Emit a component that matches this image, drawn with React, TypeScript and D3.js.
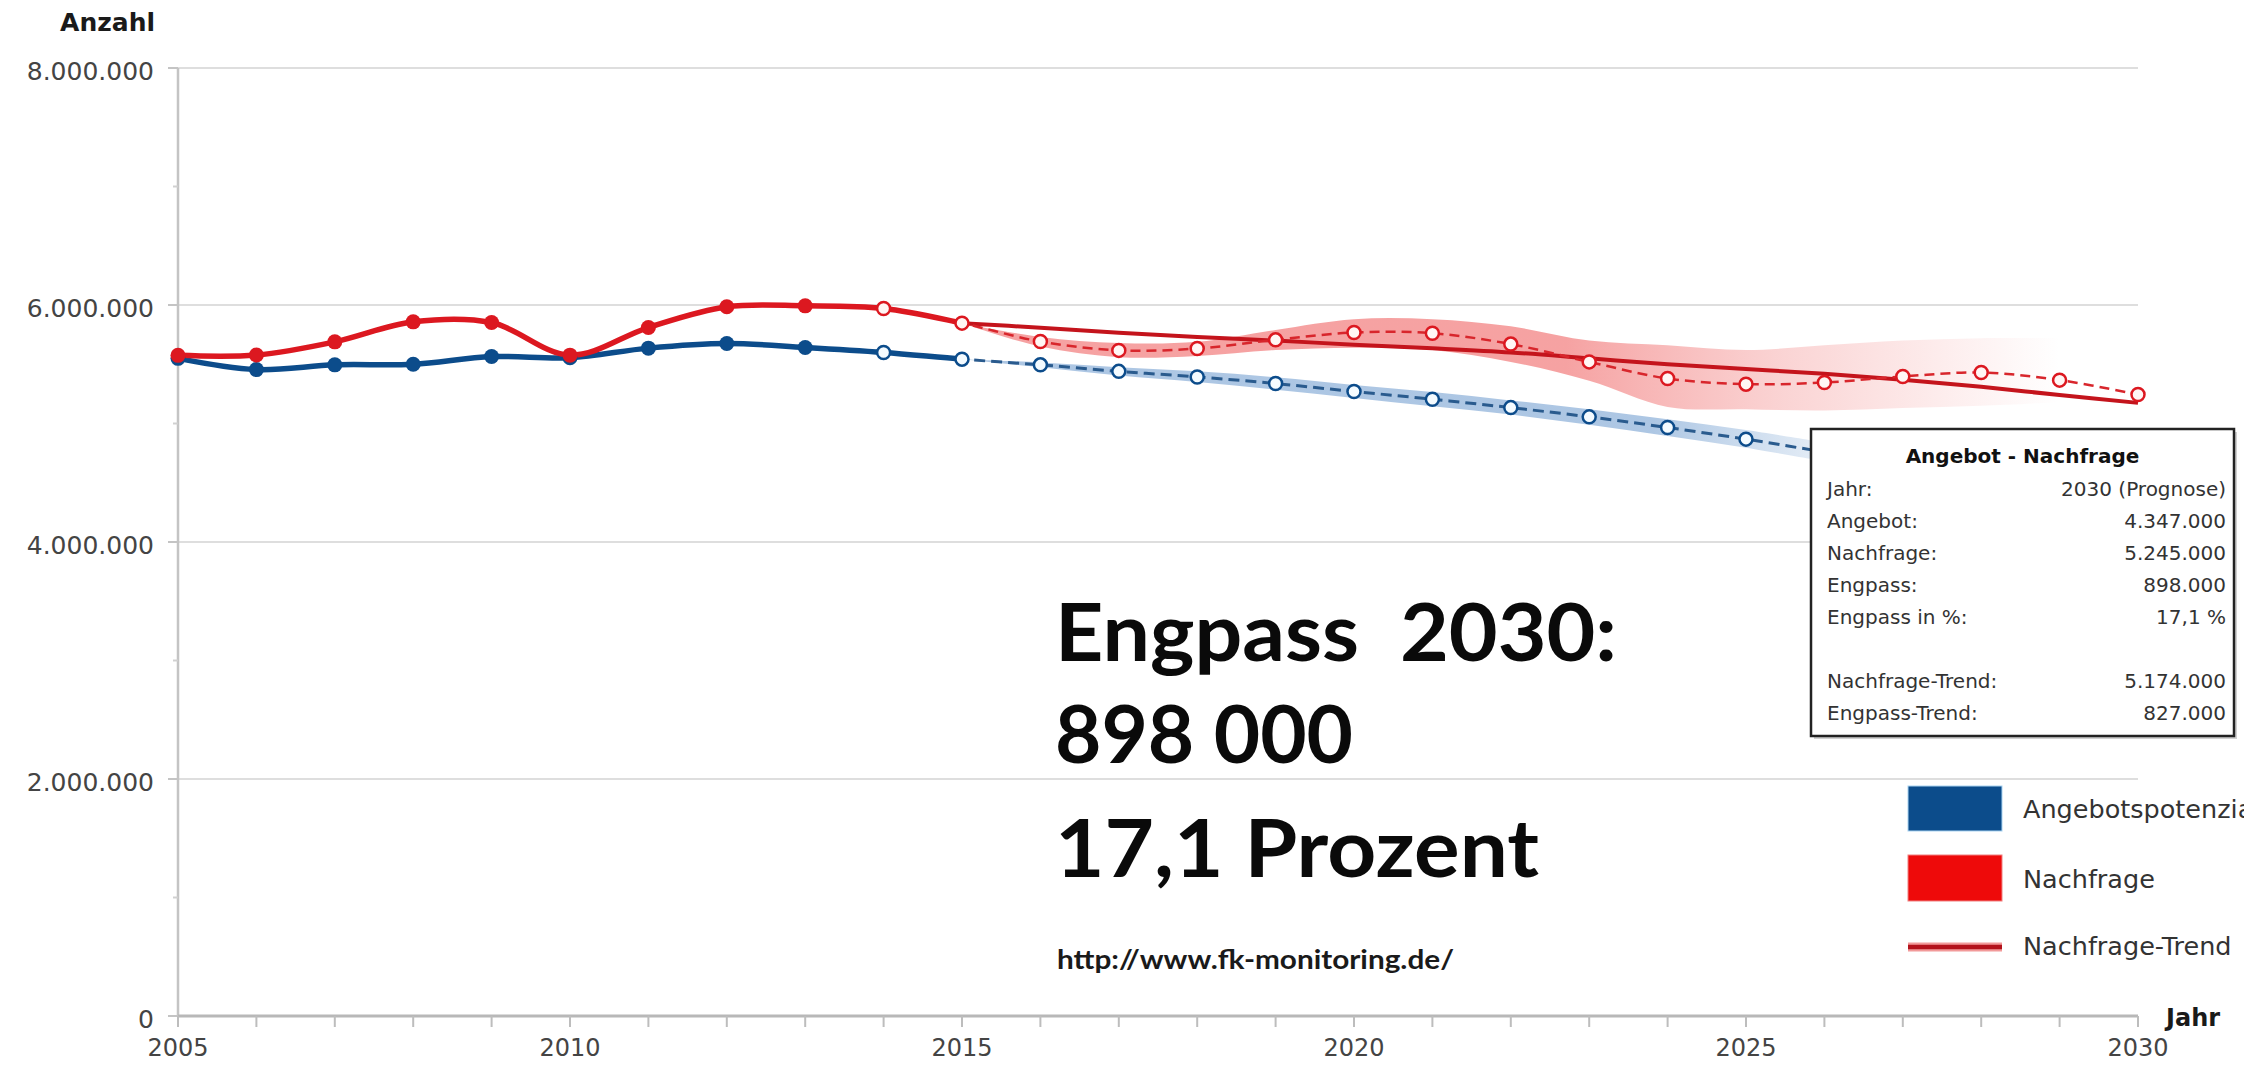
import * as d3 from 'd3';

const WIDTH = 2244;
const HEIGHT = 1065;
const PLOT = { left: 178, right: 2138, top: 68, bottom: 1016 };

// data (values in persons)
const years = [
    2005, 2006, 2007, 2008, 2009, 2010, 2011, 2012, 2013, 2014, 2015, 2016, 2017,
    2018, 2019, 2020, 2021, 2022, 2023, 2024, 2025, 2026, 2027, 2028, 2029, 2030,
];
const angebot = [
    5550000, 5455000, 5495000, 5500000, 5565000, 5555000, 5636000, 5675000, 5641000,
    5599000, 5543000, 5495000, 5440000, 5393000, 5337000, 5270000, 5205000, 5134000,
    5056000, 4966000, 4868000, 4760000, 4660000, 4555000, 4450000, 4347000,
];
const nachfrage = [
    5575000, 5578000, 5689000, 5858000, 5852000, 5577000, 5810000, 5985000, 5993000,
    5971000, 5847000, 5692000, 5617000, 5633000, 5706000, 5768000, 5762000, 5670000,
    5520000, 5380000, 5332000, 5346000, 5397000, 5430000, 5366000, 5245000,
];
const trendYears = [
    2015, 2016, 2017, 2018, 2019, 2020, 2021, 2022, 2023, 2024, 2025, 2026, 2027, 2028,
    2029, 2030,
];
const nachfrageTrend = [
    5847000, 5808000, 5766000, 5730000, 5700000, 5665000, 5635000, 5600000, 5550000,
    5500000, 5460000, 5420000, 5370000, 5310000, 5240000, 5174000,
];
const redBandYears = [
    2015, 2016, 2017, 2018, 2019, 2020, 2021, 2022, 2023, 2024, 2025, 2026, 2027, 2028,
    2029,
];
const nachfrageHigh = [
    5847000, 5730000, 5680000, 5690000, 5790000, 5880000, 5880000, 5820000, 5700000,
    5660000, 5620000, 5660000, 5700000, 5720000, 5720000,
];
const nachfrageLow = [
    5847000, 5650000, 5560000, 5570000, 5620000, 5640000, 5620000, 5520000, 5360000,
    5140000, 5120000, 5110000, 5130000, 5150000, 5180000,
];
const blueBandYears = [2015, 2016, 2017, 2018, 2019, 2020, 2021, 2022, 2023, 2024, 2025, 2026];
const angebotHigh = [
    5543000, 5515000, 5475000, 5440000, 5390000, 5325000, 5265000, 5195000, 5120000,
    5035000, 4945000, 4840000,
];
const angebotLow = [
    5543000, 5475000, 5405000, 5350000, 5285000, 5215000, 5145000, 5075000, 4990000,
    4895000, 4795000, 4680000,
];

const yTicks = [0, 2000000, 4000000, 6000000, 8000000];
const yMinorTicks = [1000000, 3000000, 5000000, 7000000];
const xLabelYears = [2005, 2010, 2015, 2020, 2025, 2030];
const LAST_ACTUAL = 2013;
const SOLID_UNTIL = 2015;

const tooltipRows: [string, string][] = [
    ['Jahr:', '2030 (Prognose)'],
    ['Angebot:', '4.347.000'],
    ['Nachfrage:', '5.245.000'],
    ['Engpass:', '898.000'],
    ['Engpass in %:', '17,1 %'],
    ['', ''],
    ['Nachfrage-Trend:', '5.174.000'],
    ['Engpass-Trend:', '827.000'],
];

const BLUE = '#0c4c8b';
const RED = '#dc1820';
const TREND = '#c4141c';
const FONT = '"DejaVu Sans", Verdana, sans-serif';

const de = d3.formatLocale({ decimal: ',', thousands: '.', grouping: [3], currency: ['', '€'] });
const fmt = de.format(',d');

export default function App() {
    const x = d3.scaleLinear().domain([2005, 2030]).range([PLOT.left, PLOT.right]);
    const y = d3.scaleLinear().domain([0, 8000000]).range([PLOT.bottom, PLOT.top]);

    const curve = d3.curveCatmullRom.alpha(0.5);
    const line = d3
        .line<[number, number]>()
        .x((d) => x(d[0]))
        .y((d) => y(d[1]))
        .curve(curve);
    const area = d3
        .area<[number, number, number]>()
        .x((d) => x(d[0]))
        .y0((d) => y(d[1]))
        .y1((d) => y(d[2]))
        .curve(curve);

    const blueLine = line(years.map((yr, i) => [yr, angebot[i]]))!;
    const redLine = line(years.map((yr, i) => [yr, nachfrage[i]]))!;
    const trendLine = line(trendYears.map((yr, i) => [yr, nachfrageTrend[i]]))!;
    const redBand = area(redBandYears.map((yr, i) => [yr, nachfrageLow[i], nachfrageHigh[i]]))!;
    const blueBand = area(blueBandYears.map((yr, i) => [yr, angebotLow[i], angebotHigh[i]]))!;

    const splitX = x(SOLID_UNTIL);

    const markers = (values: number[], color: string, openFill: string) =>
        years.map((yr, i) =>
            yr <= LAST_ACTUAL ? (
                <circle key={yr} cx={x(yr)} cy={y(values[i])} r={7.5} fill={color} />
            ) : (
                <circle
                    key={yr}
                    cx={x(yr)}
                    cy={y(values[i])}
                    r={6.5}
                    fill={openFill}
                    stroke={color}
                    strokeWidth={2.5}
                />
            )
        );

    const tipX = 1811;
    const tipY = 429;
    const tipW = 423;
    const tipH = 307;

    return (
        <svg
            width={WIDTH}
            height={HEIGHT}
            style={{ position: 'absolute', left: 0, top: 0, display: 'block', background: '#fff' }}
        >
            <defs>
                <clipPath id="solidPart">
                    <rect x={0} y={0} width={splitX} height={HEIGHT} />
                </clipPath>
                <clipPath id="dashedPart">
                    <rect x={splitX} y={0} width={WIDTH - splitX} height={HEIGHT} />
                </clipPath>
                <linearGradient id="redFade" gradientUnits="userSpaceOnUse" x1={x(2015)} x2={x(2029)} y1={0} y2={0}>
                    <stop offset="0%" stopColor="#ee5656" stopOpacity={0.55} />
                    <stop offset="55%" stopColor="#ee5656" stopOpacity={0.55} />
                    <stop offset="75%" stopColor="#f07070" stopOpacity={0.3} />
                    <stop offset="100%" stopColor="#f07070" stopOpacity={0} />
                </linearGradient>
                <linearGradient id="blueFade" gradientUnits="userSpaceOnUse" x1={x(2015)} x2={x(2026)} y1={0} y2={0}>
                    <stop offset="0%" stopColor="#5b8ec8" stopOpacity={0.5} />
                    <stop offset="80%" stopColor="#5b8ec8" stopOpacity={0.5} />
                    <stop offset="100%" stopColor="#5b8ec8" stopOpacity={0.15} />
                </linearGradient>
            </defs>

            {/* grid */}
            {yTicks.slice(1).map((v) => (
                <line key={v} x1={PLOT.left} x2={PLOT.right} y1={y(v)} y2={y(v)} stroke="#dedede" strokeWidth={2} />
            ))}

            {/* y axis */}
            <line x1={PLOT.left} x2={PLOT.left} y1={PLOT.top} y2={PLOT.bottom} stroke="#c4c4c4" strokeWidth={2.5} />
            {yTicks.map((v) => (
                <g key={v}>
                    <line x1={PLOT.left - 10} x2={PLOT.left} y1={y(v)} y2={y(v)} stroke="#c4c4c4" strokeWidth={2} />
                    <text x={154} y={y(v) + 12} textAnchor="end" fontFamily={FONT} fontSize={25} fill="#444">
                        {fmt(v)}
                    </text>
                </g>
            ))}
            {yMinorTicks.map((v) => (
                <line key={v} x1={PLOT.left - 5} x2={PLOT.left} y1={y(v)} y2={y(v)} stroke="#d0d0d0" strokeWidth={2} />
            ))}
            <text x={155} y={31} textAnchor="end" fontFamily={FONT} fontSize={25} fontWeight="bold" fill="#1a1a1a">
                Anzahl
            </text>

            {/* x axis */}
            <line x1={PLOT.left} x2={PLOT.right} y1={PLOT.bottom} y2={PLOT.bottom} stroke="#b8b8b8" strokeWidth={3} />
            {years.map((yr) => (
                <line key={yr} x1={x(yr)} x2={x(yr)} y1={PLOT.bottom} y2={PLOT.bottom + 11} stroke="#bdbdbd" strokeWidth={2} />
            ))}
            {xLabelYears.map((yr) => (
                <text key={yr} x={x(yr)} y={1056} textAnchor="middle" fontFamily={FONT} fontSize={24} fill="#444">
                    {yr}
                </text>
            ))}
            <text x={2166} y={1026} fontFamily={FONT} fontSize={24} fontWeight="bold" fill="#1a1a1a">
                Jahr
            </text>

            {/* uncertainty bands */}
            <path d={redBand} fill="url(#redFade)" />
            <path d={blueBand} fill="url(#blueFade)" />

            {/* trend */}
            <path d={trendLine} fill="none" stroke={TREND} strokeWidth={4} />

            {/* series */}
            <path d={blueLine} fill="none" stroke={BLUE} strokeWidth={5.5} clipPath="url(#solidPart)" />
            <path d={blueLine} fill="none" stroke="#2a5b8e" strokeWidth={3} strokeDasharray="11 6" clipPath="url(#dashedPart)" />
            <path d={redLine} fill="none" stroke={RED} strokeWidth={5.5} clipPath="url(#solidPart)" />
            <path d={redLine} fill="none" stroke="#d8262c" strokeWidth={2.5} strokeDasharray="10 6" clipPath="url(#dashedPart)" />

            {markers(angebot, BLUE, '#f4fbff')}
            {markers(nachfrage, RED, '#fff6f4')}

            {/* annotation */}
            <g fontFamily="Lato, 'Open Sans', sans-serif" fontWeight="bold" fill="#0a0a0a">
                <text x={1055} y={661} fontSize={80} textLength={562} lengthAdjust="spacingAndGlyphs" style={{ whiteSpace: 'pre' }}>
                    {'Engpass  2030:'}
                </text>
                <text x={1055} y={763} fontSize={80} textLength={298} lengthAdjust="spacingAndGlyphs">
                    898 000
                </text>
                <text x={1055} y={877} fontSize={80} textLength={484} lengthAdjust="spacingAndGlyphs">
                    17,1 Prozent
                </text>
                <text x={1057} y={969} fontSize={27} textLength={397} lengthAdjust="spacingAndGlyphs" fill="#1a1a1a">
                    http://www.fk-monitoring.de/
                </text>
            </g>

            {/* tooltip */}
            <rect x={tipX + 3} y={tipY + 3} width={tipW} height={tipH} fill="#999" opacity={0.45} />
            <rect x={tipX} y={tipY} width={tipW} height={tipH} fill="#fff" stroke="#222" strokeWidth={2.5} />
            <text x={tipX + tipW / 2} y={463} textAnchor="middle" fontFamily={FONT} fontSize={20} fontWeight="bold" fill="#111">
                Angebot - Nachfrage
            </text>
            {tooltipRows.map(([label, value], i) => (
                <g key={i} fontFamily={FONT} fontSize={20} fill="#333">
                    <text x={1827} y={496 + i * 32}>
                        {label}
                    </text>
                    <text x={2226} y={496 + i * 32} textAnchor="end">
                        {value}
                    </text>
                </g>
            ))}

            {/* legend */}
            <rect x={1908} y={786} width={94} height={45} fill={BLUE} stroke="#a9d4f2" strokeWidth={1} />
            <rect x={1908} y={855} width={94} height={46} fill="#ee0a0a" stroke="#f08080" strokeWidth={1} />
            <line x1={1908} x2={2002} y1={947} y2={947} stroke="#f29a9a" strokeWidth={9} />
            <line x1={1908} x2={2002} y1={947} y2={947} stroke="#b3121b" strokeWidth={4.5} />
            <g fontFamily={FONT} fontSize={25.5} fill="#333">
                <text x={2023} y={818}>Angebotspotenzial</text>
                <text x={2023} y={888}>Nachfrage</text>
                <text x={2023} y={955}>Nachfrage-Trend</text>
            </g>
        </svg>
    );
}
